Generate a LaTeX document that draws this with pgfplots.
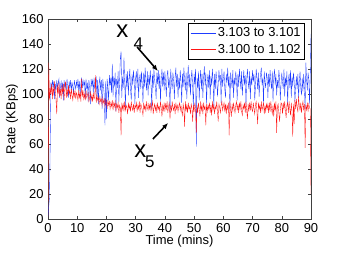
\documentclass[border=0pt]{standalone}
\usepackage{fontspec}
\setmainfont{Liberation Sans}
\usepackage{pgfplots}
\pgfplotsset{compat=1.18}
\usepackage{pgfplotstable}
\usetikzlibrary{arrows.meta}

\pgfplotstableread[header=false,row sep=\\]{
2\\10\\17\\60\\109\\104\\111\\106\\110\\96\\108\\103\\111\\105\\109\\112\\97\\106\\110\\104\\
109\\95\\111\\106\\108\\103\\112\\107\\97\\110\\105\\111\\103\\109\\106\\100\\111\\107\\104\\110\\
106\\112\\103\\110\\99\\108\\113\\105\\111\\107\\110\\96\\112\\104\\109\\94\\111\\106\\92\\112\\
107\\111\\101\\113\\104\\110\\114\\98\\111\\92\\109\\113\\103\\111\\88\\112\\106\\99\\75\\110\\
80\\112\\104\\95\\115\\107\\113\\101\\124\\98\\114\\106\\117\\86\\112\\105\\118\\94\\111\\128\\
134\\97\\114\\105\\129\\109\\90\\116\\106\\118\\99\\112\\120\\104\\95\\116\\107\\119\\110\\92\\
113\\118\\105\\120\\97\\111\\116\\104\\118\\108\\93\\117\\106\\121\\110\\103\\118\\99\\115\\107\\
119\\109\\88\\116\\105\\120\\111\\106\\96\\117\\108\\119\\104\\116\\94\\112\\120\\106\\117\\103\\
118\\108\\98\\115\\119\\105\\113\\85\\120\\109\\104\\117\\111\\96\\114\\121\\106\\116\\97\\113\\
104\\119\\110\\93\\116\\106\\121\\111\\103\\117\\96\\112\\123\\105\\116\\99\\113\\119\\106\\89\\
116\\108\\120\\58\\113\\105\\118\\95\\111\\119\\104\\116\\97\\113\\122\\107\\117\\92\\110\\116\\
105\\119\\96\\114\\107\\120\\110\\90\\116\\104\\118\\112\\98\\108\\119\\111\\115\\93\\120\\106\\
113\\118\\104\\97\\116\\109\\121\\106\\114\\88\\117\\110\\105\\119\\97\\113\\107\\118\\111\\95\\
116\\106\\120\\112\\104\\118\\99\\110\\119\\107\\115\\91\\112\\120\\109\\104\\118\\96\\114\\107\\
119\\110\\116\\95\\106\\120\\113\\104\\117\\98\\110\\116\\121\\107\\113\\92\\118\\109\\105\\117\\
113\\97\\116\\106\\119\\110\\104\\118\\94\\113\\120\\107\\116\\99\\111\\105\\119\\113\\95\\108\\
117\\110\\104\\120\\98\\113\\107\\118\\91\\111\\116\\105\\119\\97\\114\\106\\117\\110\\94\\105\\
114\\104\\116\\97\\110\\118\\105\\99\\113\\102\\116\\104\\88\\125\\111\\103\\117\\112\\92\\114\\148\\
}\bluedata

\pgfplotstableread[header=false,row sep=\\]{
2\\125\\95\\105\\100\\108\\96\\106\\99\\110\\102\\95\\84\\107\\100\\109\\98\\104\\96\\107\\
100\\108\\95\\105\\110\\97\\104\\98\\107\\100\\103\\96\\104\\99\\95\\102\\98\\103\\96\\101\\
99\\95\\103\\97\\101\\94\\112\\98\\102\\96\\100\\95\\103\\97\\99\\101\\94\\97\\102\\95\\
99\\94\\101\\96\\98\\115\\93\\99\\95\\97\\92\\98\\94\\96\\91\\97\\93\\95\\90\\96\\
93\\89\\95\\91\\94\\88\\93\\90\\95\\87\\93\\90\\94\\86\\92\\89\\93\\85\\91\\89\\
67\\93\\88\\92\\86\\94\\87\\91\\89\\84\\93\\88\\91\\86\\94\\89\\87\\92\\85\\91\\
89\\93\\86\\91\\88\\94\\85\\92\\90\\87\\83\\93\\88\\91\\86\\94\\89\\87\\92\\88\\
93\\86\\90\\94\\84\\89\\92\\87\\91\\85\\93\\88\\90\\86\\94\\89\\82\\91\\87\\93\\
86\\92\\88\\94\\85\\90\\93\\80\\91\\86\\94\\89\\87\\92\\84\\93\\88\\91\\86\\90\\
93\\87\\91\\86\\83\\92\\88\\74\\94\\87\\91\\85\\93\\88\\90\\84\\92\\89\\78\\91\\
86\\93\\88\\69\\91\\85\\93\\88\\82\\94\\87\\91\\84\\93\\88\\90\\75\\92\\86\\91\\
88\\93\\85\\91\\83\\94\\87\\92\\84\\90\\88\\94\\86\\78\\92\\89\\85\\91\\94\\87\\
90\\93\\86\\92\\84\\91\\88\\93\\67\\94\\87\\82\\92\\86\\93\\88\\85\\91\\94\\87\\
92\\85\\93\\88\\94\\86\\83\\91\\88\\93\\85\\94\\87\\80\\92\\86\\93\\87\\94\\88\\
86\\93\\88\\84\\92\\94\\86\\76\\93\\88\\91\\85\\94\\87\\90\\93\\84\\91\\86\\92\\
88\\92\\85\\93\\86\\94\\88\\84\\91\\82\\93\\87\\94\\69\\90\\92\\85\\78\\87\\93\\
92\\84\\93\\88\\94\\86\\81\\91\\93\\85\\94\\88\\83\\93\\86\\66\\92\\76\\95\\88\\
96\\89\\86\\98\\90\\87\\93\\85\\91\\94\\87\\92\\57\\91\\87\\93\\86\\92\\89\\88\\20\\
}\reddata

\definecolor{mblue}{RGB}{30,60,255}
\definecolor{mred}{RGB}{255,20,20}

\begin{document}
\fontsize{13}{15}\selectfont
\begin{tikzpicture}
\begin{axis}[
  scale only axis,
  width=263bp, height=200bp,
  xmin=0, xmax=90, ymin=0, ymax=160,
  xtick={0,10,...,90}, ytick={0,20,...,160},
  xtick pos=both, ytick pos=both,
  tick align=inside,
  major tick length=3bp,
  axis line style={black!75, line width=0.5bp},
  every tick/.style={black!75, line width=0.5bp},
  /pgf/number format/assume math mode=true,
  tick label style={font=\fontsize{13}{15}\selectfont},
  label style={font=\fontsize{13}{15}\selectfont},
  xlabel={Time (mins)},
  ylabel={Rate (KBps)},
  xlabel style={at={(axis description cs:0.5,-0.1125)}, anchor=center},
  ylabel style={at={(axis description cs:-0.137,0.5)}, anchor=center},
  legend style={at={(rel axis cs:0.977,0.98)}, anchor=north east,
    font=\fontsize{13}{15}\selectfont, draw=black, line width=0.5bp,
    inner xsep=2bp, inner ysep=2.5bp, row sep=1.5bp},
  legend cell align=left,
  legend image code/.code={\draw[#1, line width=0.5bp] (0bp,0bp) -- (25bp,0bp);},
]
\addplot[mblue, line width=0.35bp] table[x expr=\coordindex/4, y index=0] {\bluedata};
\addlegendentry{3.103 to 3.101}
\addplot[mred, line width=0.35bp] table[x expr=\coordindex/4, y index=0] {\reddata};
\addlegendentry{3.100 to 1.102}
\coordinate (sw) at (rel axis cs:0,0);
\coordinate (ne) at (rel axis cs:1,1);
\node[anchor=base west, inner sep=0, font=\fontsize{24}{24}\selectfont] at (axis cs:23.3,144.8) {x};
\node[anchor=base west, inner sep=0, font=\fontsize{17}{17}\selectfont] at (axis cs:29.2,135.2) {4};
\node[anchor=base west, inner sep=0, font=\fontsize{24}{24}\selectfont] at (axis cs:29.5,49.6) {x};
\node[anchor=base west, inner sep=0, font=\fontsize{17}{17}\selectfont] at (axis cs:33.2,41.6) {5};
\draw[-{Latex[length=6bp,width=5bp]}, line width=1.6bp] (axis cs:30.5,137.6) -- (axis cs:37.6,118.4);
\draw[-{Latex[length=6bp,width=5bp]}, line width=1.6bp] (axis cs:35.9,64) -- (axis cs:41.1,76.8);
\end{axis}
\pgfresetboundingbox
\path[use as bounding box] ([xshift=-48bp,yshift=-39bp]sw) rectangle ([xshift=32bp,yshift=19bp]ne);
\end{tikzpicture}
\end{document}
